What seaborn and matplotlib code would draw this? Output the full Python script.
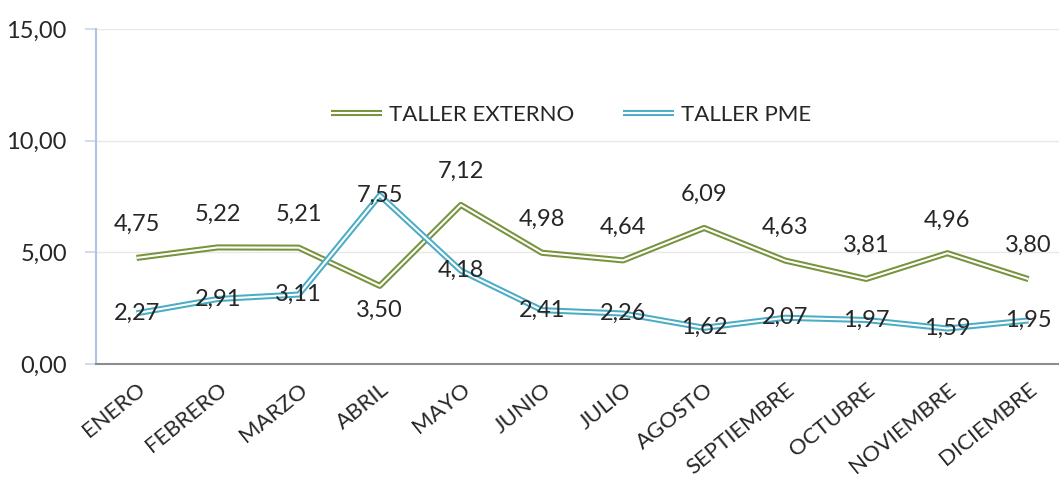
import seaborn as sns
import matplotlib.pyplot as plt
import matplotlib.patheffects as pe
import pandas as pd

meses = ["ENERO", "FEBRERO", "MARZO", "ABRIL", "MAYO", "JUNIO", "JULIO",
         "AGOSTO", "SEPTIEMBRE", "OCTUBRE", "NOVIEMBRE", "DICIEMBRE"]
taller_externo = [4.75, 5.22, 5.21, 3.50, 7.12, 4.98, 4.64, 6.09, 4.63, 3.81, 4.96, 3.80]
taller_pme = [2.27, 2.91, 3.11, 7.55, 4.18, 2.41, 2.26, 1.62, 2.07, 1.97, 1.59, 1.95]
series = ["TALLER EXTERNO", "TALLER PME"]
colores = ["#77933C", "#4BACC6"]

df = pd.DataFrame({"mes": meses * 2,
                   "valor": taller_externo + taller_pme,
                   "serie": [series[0]] * 12 + [series[1]] * 12})

sns.set_style("white")
plt.rcParams["font.family"] = ["Lato", "DejaVu Sans"]

fig = plt.figure(figsize=(10.59, 4.82), dpi=100)
ax = fig.add_axes([96 / 1059, 118 / 482, 973 / 1059, 335 / 482])

sns.lineplot(data=df, x="mes", y="valor", hue="serie", palette=colores,
             sort=False, ax=ax, linewidth=4.4)


def doble(ln, c):
    # linea doble estilo excel
    ln.set_solid_capstyle("butt")
    ln.set_path_effects([pe.Stroke(linewidth=4.4, foreground=c, capstyle="butt"),
                         pe.Stroke(linewidth=1.5, foreground="white", capstyle="butt")])


for ln, c in zip(ax.get_lines(), colores):
    doble(ln, c)

fmt = lambda v: f"{v:.2f}".replace(".", ",")
for i, v in enumerate(taller_externo):
    dy = -18 if meses[i] == "ABRIL" else 24
    ax.annotate(fmt(v), (i, v), xytext=(0, dy), textcoords="offset points",
                ha="center", va="center", fontsize=17)
for i, v in enumerate(taller_pme):
    ax.annotate(fmt(v), (i, v), xytext=(0, 0), textcoords="offset points",
                ha="center", va="center", fontsize=17)

ax.set_xlim(-0.5, 11.5)
ax.set_ylim(0, 15)
ax.set_yticks([0, 5, 10, 15])
ax.set_yticklabels([fmt(t) for t in [0, 5, 10, 15]], fontsize=17)
ax.set_xticks(range(12))
ax.set_xticks([i - 0.5 for i in range(12)], minor=True)
ax.set_xticklabels(meses, rotation=39, ha="right", rotation_mode="anchor", fontsize=16)
ax.tick_params(axis="x", which="major", length=0, pad=11)
ax.tick_params(axis="x", which="minor", length=7, width=1.5, color="#8C8C8C", direction="out")
ax.tick_params(axis="y", length=8, width=1.2, color="#C9D6EE", pad=13, left=True)
ax.grid(axis="y", color="#E8E8E8", linewidth=1)
ax.set_xlabel("")
ax.set_ylabel("")

for s in ["top", "right"]:
    ax.spines[s].set_visible(False)
ax.spines["left"].set_color("#AFC3E8")
ax.spines["left"].set_linewidth(1.5)
ax.spines["bottom"].set_color("#8C8C8C")
ax.spines["bottom"].set_linewidth(1.5)

leg = ax.legend(ncol=2, loc="center", bbox_to_anchor=(0.488, 0.743), frameon=False,
                fontsize=16, handlelength=2.3, columnspacing=2.2, handletextpad=0.3)
for ln, c in zip(leg.get_lines(), colores):
    doble(ln, c)

fig.savefig("out.png", dpi=100)
